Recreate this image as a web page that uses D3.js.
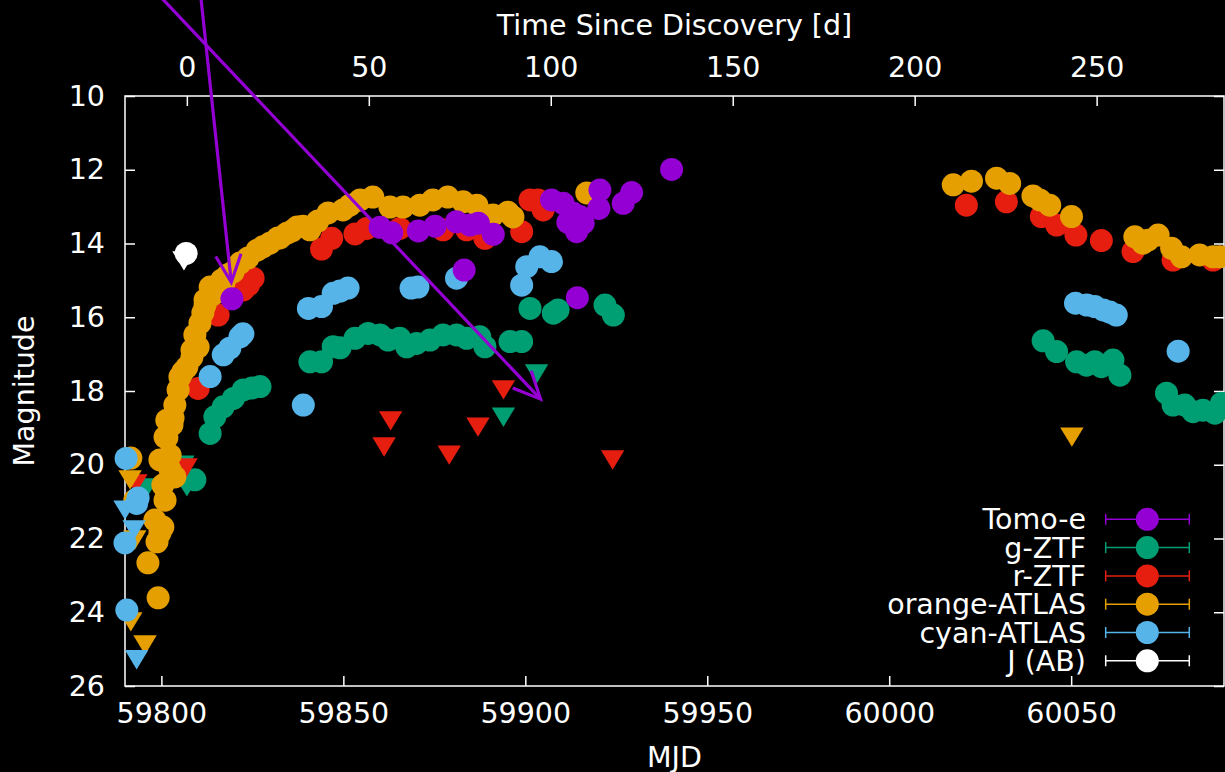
<!DOCTYPE html>
<html>
<head>
<meta charset="utf-8">
<script src="https://cdn.jsdelivr.net/npm/d3@7"></script>
<style>
  html, body { margin: 0; padding: 0; background: #000; }
  svg { display: block; }
  text { font-family: "DejaVu Sans", sans-serif; fill: #fff; }
</style>
</head>
<body>
<svg id="chart" width="1225" height="772"></svg>
<script>
// ---- light-curve data (MJD, magnitude); "Lim" arrays are upper limits ----
const tomoeMJD = [59819.4, 59860.1, 59863.3, 59870.6, 59875.2, 59881.1, 59884.8, 59887.1, 59891.2, 59883.2, 59907.2, 59910.4, 59911.7, 59913.2, 59915.0, 59915.9, 59914.1, 59920.5, 59920.2, 59929.2, 59926.9, 59940.2, 59914.3];
const tomoeMag = [15.50, 13.56, 13.71, 13.66, 13.53, 13.41, 13.50, 13.45, 13.75, 14.72, 12.82, 12.91, 13.43, 13.18, 13.27, 13.45, 13.68, 12.55, 13.05, 12.62, 12.91, 11.99, 15.47];

const gztfMJD = [59809.2, 59813.4, 59814.7, 59817.0, 59819.8, 59822.5, 59824.9, 59827.1, 59840.8, 59844.0, 59847.2, 59849.1, 59853.2, 59856.8, 59860.1, 59862.3, 59865.5, 59867.4, 59870.1, 59873.8, 59877.4, 59881.1, 59883.9, 59887.5, 59888.9, 59895.8, 59899.0, 59901.3, 59907.7, 59909.0, 59921.9, 59924.2, 60042.3, 60046.0, 60051.5, 60054.2, 60056.5, 60058.3, 60061.5, 60063.4, 60076.2, 60078.0, 60081.2, 60083.5, 60086.2, 60089.5, 60091.3];
const gztfMag = [20.41, 19.15, 18.70, 18.43, 18.20, 17.97, 17.92, 17.88, 17.21, 17.21, 16.80, 16.83, 16.57, 16.44, 16.48, 16.62, 16.57, 16.80, 16.71, 16.62, 16.48, 16.48, 16.57, 16.53, 16.80, 16.66, 16.66, 15.76, 15.89, 15.80, 15.67, 15.94, 16.64, 16.93, 17.21, 17.30, 17.21, 17.34, 17.16, 17.57, 18.06, 18.38, 18.38, 18.56, 18.52, 18.60, 18.33];
const gztfLimMJD = [59796.0, 59805.9, 59807.0, 59894.0, 59903.1];
const gztfLimMag = [20.63, 20.01, 20.60, 18.71, 17.54];

const rztfMJD = [59810.1, 59815.6, 59822.5, 59823.9, 59825.2, 59844.0, 59846.8, 59853.2, 59856.4, 59865.5, 59877.4, 59883.9, 59888.9, 59899.0, 59901.3, 59903.5, 59904.9, 59913.2, 60021.2, 60032.2, 60041.8, 60046.0, 60051.3, 60058.3, 60067.0, 60078.0, 60089.0];
const rztfMag = [17.93, 15.94, 15.26, 15.13, 14.94, 14.15, 13.86, 13.74, 13.59, 13.59, 13.63, 13.63, 13.86, 13.68, 12.82, 12.82, 13.09, 13.41, 12.96, 12.87, 13.27, 13.50, 13.77, 13.92, 14.22, 14.45, 14.45];
const rztfLimMJD = [59793.0, 59806.8, 59861.2, 59863.0, 59879.1, 59887.0, 59894.0, 59924.0];
const rztfLimMag = [20.52, 20.09, 19.52, 18.81, 19.74, 18.98, 17.97, 19.87];

const orangeMJD = [59799.1, 59796.3, 59798.8, 59799.6, 59800.4, 59798.2, 59801.0, 59803.7, 59799.6, 59802.4, 59801.5, 59803.2, 59803.7, 59801.5, 59801.0, 59805.1, 59807.0, 59808.4, 59810.1, 59810.6, 59811.4, 59812.0, 59813.4, 59815.3, 59817.2, 59819.7, 59821.6, 59826.3, 59829.8, 59832.0, 59834.5, 59837.3, 59791.6, 59792.7,
  59804.6, 59805.9, 59808.4, 59809.2, 59812.0, 59813.9, 59816.6, 59818.3, 59823.8, 59827.9, 59832.6, 59835.9, 59802.4, 59800.4, 59802.9,
  59838.9, 59840.8, 59843.0, 59845.8, 59849.9, 59851.8, 59854.6, 59858.1, 59862.8, 59866.4, 59871.0, 59874.6, 59878.7, 59882.9, 59886.7, 59891.1, 59895.2, 59896.6, 59916.9,
  60017.6, 60022.6, 60029.5, 60033.1, 60039.5, 60041.4, 60044.1, 60050.1, 60067.5, 60069.7, 60071.1, 60073.9, 60077.6, 60080.3, 60085.3, 60089.0, 60090.8];
const orangeMag = [23.61, 22.66, 22.09, 21.85, 21.69, 21.50, 20.96, 20.33, 19.87, 19.74, 19.27, 18.73, 18.38, 18.79, 19.25, 17.62, 17.35, 17.08, 16.81, 16.16, 15.88, 15.53, 15.18, 15.32, 15.07, 14.77, 14.53, 14.18, 13.99, 13.85, 13.72, 13.55, 19.82, 20.96,
  17.97, 17.48, 16.89, 16.48, 15.67, 15.40, 14.99, 14.85, 14.39, 14.09, 13.85, 13.66, 20.14, 20.55, 18.92,
  13.53, 13.63, 13.39, 13.17, 13.09, 12.96, 12.82, 12.74, 13.01, 13.01, 12.96, 12.82, 12.74, 12.87, 12.96, 13.23, 13.15, 13.28, 12.63,
  12.41, 12.31, 12.23, 12.37, 12.71, 12.82, 12.96, 13.27, 13.82, 13.99, 13.91, 13.77, 14.13, 14.36, 14.31, 14.36, 14.36];
const orangeLimMJD = [59791.4, 59792.7, 59791.6, 59795.5, 60050.2];
const orangeLimMag = [20.41, 22.04, 24.26, 24.89, 19.25];

const cyanMJD = [59790.3, 59793.2, 59793.6, 59790.0, 59790.5, 59813.4, 59817.0, 59818.8, 59821.6, 59822.4, 59839.0, 59840.4, 59844.0, 59847.2, 59849.1, 59851.3, 59868.6, 59870.5, 59881.1, 59899.0, 59900.4, 59904.0, 59907.2, 60051.2, 60054.3, 60056.5, 60058.8, 60060.6, 60062.4, 60079.4];
const cyanMag = [19.83, 21.05, 20.90, 22.12, 23.94, 17.61, 17.02, 16.84, 16.53, 16.45, 18.38, 15.76, 15.71, 15.35, 15.29, 15.21, 15.21, 15.18, 14.94, 15.13, 14.63, 14.36, 14.49, 15.62, 15.67, 15.71, 15.80, 15.86, 15.94, 16.92];
const cyanLimMJD = [59790.0, 59792.5, 59793.2];
const cyanLimMag = [21.23, 21.77, 25.29];

const jabMJD = [59806.8];
const jabMag = [14.27];
const jabLimMJD = [59806.2];
const jabLimMag = [14.47];

// Legend entries, top to bottom
const legendNames = ["Tomo-e", "g-ZTF", "r-ZTF", "orange-ATLAS", "cyan-ATLAS", "J (AB)"];
const legendColors = ["#9400d3", "#009e73", "#e51e10", "#e69f00", "#56b4e9", "#ffffff"];

// Axis ticks
const mjdTicks = [59800, 59850, 59900, 59950, 60000, 60050];
const dayTicks = [0, 50, 100, 150, 200, 250];
const magTicks = [10, 12, 14, 16, 18, 20, 22, 24, 26];
const discoveryMJD = 59807.0;

// Annotation arrows: [startMJD, startMag, endMJD, endMag]
const arrows = [
  [59810.5, 7.0, 59819.2, 15.05],
  [59796.8, 7.0, 59904.2, 18.22]
];

// ---- layout ----
const W = 1225, H = 772;
const plot = { left: 125, right: 1224, top: 96, bottom: 686 };
const FS = 28.5;

const svg = d3.select("#chart");
svg.append("rect").attr("width", W).attr("height", H).attr("fill", "#000");

const x = d3.scaleLinear().domain([59790, 60092]).range([plot.left, plot.right]);
const x2 = d3.scaleLinear().domain([59790 - discoveryMJD, 60092 - discoveryMJD]).range([plot.left, plot.right]);
const y = d3.scaleLinear().domain([10, 26]).range([plot.top, plot.bottom]);

function styleAxis(g) {
  g.select(".domain").remove();
  g.selectAll(".tick line").attr("stroke", "#fff").attr("stroke-width", 1.5);
  g.selectAll(".tick text").attr("fill", "#fff").attr("font-size", FS)
    .attr("font-family", "DejaVu Sans, sans-serif");
}

svg.append("g").attr("transform", `translate(0,${plot.bottom})`)
  .call(d3.axisBottom(x).tickValues(mjdTicks).tickFormat(d3.format("d")).tickSize(-10).tickPadding(17))
  .call(styleAxis);
svg.append("g").attr("transform", `translate(0,${plot.top})`)
  .call(d3.axisTop(x2).tickValues(dayTicks).tickFormat(d3.format("d")).tickSize(-10).tickPadding(19))
  .call(styleAxis);
svg.append("g").attr("transform", `translate(${plot.left},0)`)
  .call(d3.axisLeft(y).tickValues(magTicks).tickFormat(d3.format("d")).tickSize(-10).tickPadding(20))
  .call(styleAxis);
svg.append("g").attr("transform", `translate(${plot.right},0)`)
  .call(d3.axisRight(y).tickValues(magTicks).tickFormat("").tickSize(-10))
  .call(styleAxis);

// plot border
svg.append("rect")
  .attr("x", plot.left).attr("y", plot.top)
  .attr("width", plot.right - plot.left).attr("height", plot.bottom - plot.top)
  .attr("fill", "none").attr("stroke", "#fff").attr("stroke-width", 1.5);

// axis titles
svg.append("text").attr("x", (plot.left + plot.right) / 2).attr("y", 767)
  .attr("text-anchor", "middle").attr("font-size", FS).text("MJD");
svg.append("text").attr("x", (plot.left + plot.right) / 2).attr("y", 35)
  .attr("text-anchor", "middle").attr("font-size", FS).text("Time Since Discovery [d]");
svg.append("text").attr("transform", `translate(34,${(plot.top + plot.bottom) / 2}) rotate(-90)`)
  .attr("text-anchor", "middle").attr("font-size", FS).text("Magnitude");

// ---- markers ----
const R = 11.5;
const tri = "M-11.7,-9.7L11.7,-9.7L0,9.7Z";
const inRange = (m) => m >= 59790 && m <= 60092;

function zipPts(ms, vs) {
  return ms.map((m, i) => ({ m, v: vs[i] })).filter(p => inRange(p.m));
}

function drawSeries(mjd, mag, limMJD, limMag, color) {
  const g = svg.append("g");
  if (limMJD) {
    g.selectAll("path").data(zipPts(limMJD, limMag)).join("path")
      .attr("d", tri)
      .attr("transform", d => `translate(${x(d.m)},${y(d.v)})`)
      .attr("fill", color);
  }
  g.selectAll("circle").data(zipPts(mjd, mag)).join("circle")
    .attr("cx", d => x(d.m)).attr("cy", d => y(d.v)).attr("r", R)
    .attr("fill", color);
}

drawSeries(gztfMJD, gztfMag, gztfLimMJD, gztfLimMag, legendColors[1]);
drawSeries(rztfMJD, rztfMag, rztfLimMJD, rztfLimMag, legendColors[2]);
drawSeries(orangeMJD, orangeMag, orangeLimMJD, orangeLimMag, legendColors[3]);
drawSeries(cyanMJD, cyanMag, cyanLimMJD, cyanLimMag, legendColors[4]);
drawSeries(tomoeMJD, tomoeMag, null, null, legendColors[0]);
drawSeries(jabMJD, jabMag, jabLimMJD, jabLimMag, legendColors[5]);

// ---- arrows with open heads ----
const headLen = 30, headAng = 25 * Math.PI / 180;
arrows.forEach(a => {
  const x0 = x(a[0]), y0 = y(a[1]), x1 = x(a[2]), y1 = y(a[3]);
  const ang = Math.atan2(y1 - y0, x1 - x0);
  const g = svg.append("g").attr("stroke", "#9400d3").attr("stroke-width", 3.2)
    .attr("fill", "none").attr("stroke-linecap", "butt");
  g.append("line").attr("x1", x0).attr("y1", y0).attr("x2", x1).attr("y2", y1);
  const p1 = [x1 - headLen * Math.cos(ang - headAng), y1 - headLen * Math.sin(ang - headAng)];
  const p2 = [x1 - headLen * Math.cos(ang + headAng), y1 - headLen * Math.sin(ang + headAng)];
  g.append("path").attr("d", `M${p1[0]},${p1[1]}L${x1},${y1}L${p2[0]},${p2[1]}`);
});

// ---- legend ----
const leg = svg.append("g");
const legTop = 519.3, legStep = 28.3;
legendNames.forEach((name, i) => {
  const cy = legTop + i * legStep;
  const c = legendColors[i];
  leg.append("text").attr("x", 1086).attr("y", cy + 10)
    .attr("text-anchor", "end").attr("font-size", FS).text(name);
  leg.append("line").attr("x1", 1105.7).attr("x2", 1189.3).attr("y1", cy).attr("y2", cy)
    .attr("stroke", c).attr("stroke-width", 1.5);
  [1105.7, 1189.3].forEach(xx => {
    leg.append("line").attr("x1", xx).attr("x2", xx).attr("y1", cy - 5.5).attr("y2", cy + 5.5)
      .attr("stroke", c).attr("stroke-width", 1.5);
  });
  leg.append("circle").attr("cx", 1147.3).attr("cy", cy).attr("r", R).attr("fill", c);
});
</script>
</body>
</html>
